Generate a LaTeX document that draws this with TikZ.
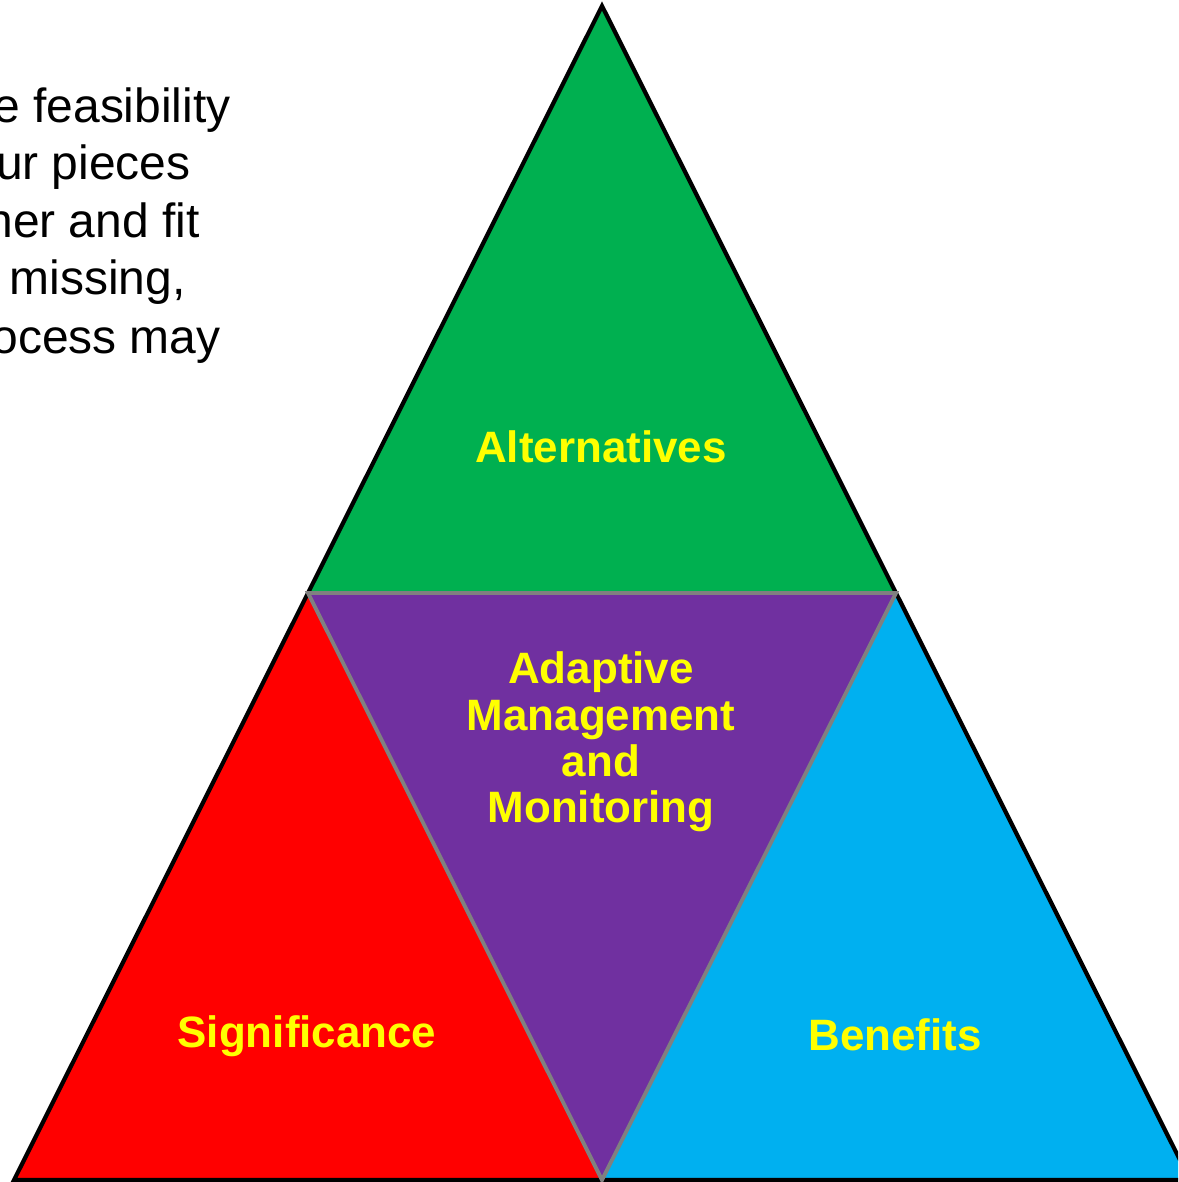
\documentclass[tikz,border=0pt]{standalone}
\usepackage{fontspec}
\setmainfont{Liberation Sans}
\usetikzlibrary{calc}
\definecolor{altgreen}{HTML}{00B050}
\definecolor{sigred}{HTML}{FF0000}
\definecolor{benblue}{HTML}{00B0F0}
\definecolor{adapurple}{HTML}{7030A0}
\definecolor{labyellow}{HTML}{FFFF00}
\definecolor{edgegray}{HTML}{808080}

\begin{document}
\begin{tikzpicture}[x=0.02cm, y=-0.02cm,
    tritext/.style={text=labyellow, align=center, font=\fontsize{25}{26.3}\selectfont\bfseries},
    sidetext/.style={anchor=base east, inner sep=0pt, font=\fontsize{27.3}{32.8}\selectfont}]
    \useasboundingbox (0,0) rectangle (1178,1182);
    \clip (0,0) rectangle (1178,1182);

    % corners of the big triangle
    \coordinate (top) at (602,6);
    \coordinate (left) at (14,1180);
    \coordinate (right) at (1190,1180);
    \coordinate (midL) at ($(top)!0.5!(left)$);
    \coordinate (midR) at ($(top)!0.5!(right)$);
    \coordinate (bot) at ($(left)!0.5!(right)$);

    % the four pieces
    \fill[altgreen] (top) -- (midL) -- (midR) -- cycle;
    \fill[sigred] (midL) -- (left) -- (bot) -- cycle;
    \fill[benblue] (midR) -- (bot) -- (right) -- cycle;
    \fill[adapurple] (midL) -- (midR) -- (bot) -- cycle;
    \draw[black, line width=2.4pt] (top) -- (left) -- (right) -- cycle;
    \draw[edgegray, line width=2.2pt] (midL) -- (midR) -- (bot) -- cycle;

    \node (alt) [tritext] at (601,447) {Alternatives};
    \node (adapt) [tritext] at (601,742) {Adaptive\\Management\\and\\Monitoring};
    \node (sig) [tritext] at (307,1036) {Significance};
    \node (ben) [tritext] at (895,1035) {Benefits};

    % text cut off at the left edge
    \node (line1) [sidetext] at (231,123) {the feasibility};
    \node (line2) [sidetext] at (191,180) {our pieces};
    \node (line3) [sidetext] at (200,238) {her and fit};
    \node (line4) [sidetext] at (186,295) {missing,};
    \node (line5) [sidetext] at (221,353) {process may};
\end{tikzpicture}
\end{document}
